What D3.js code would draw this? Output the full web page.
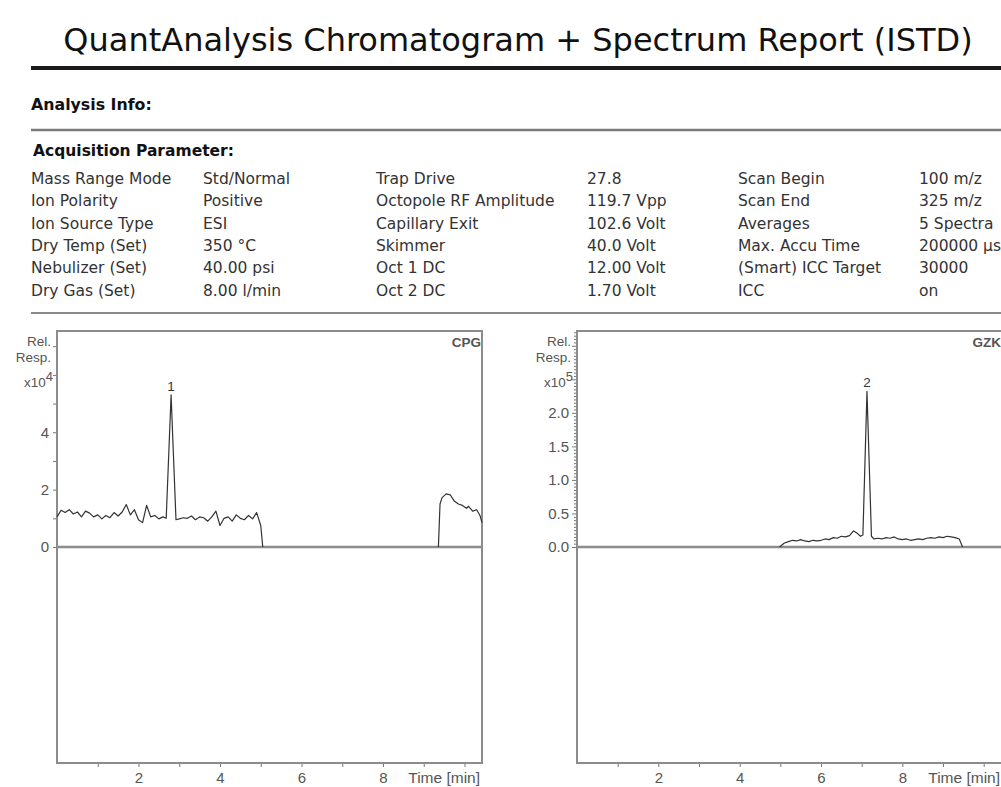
<!DOCTYPE html>
<html><head><meta charset="utf-8">
<script src="https://cdn.jsdelivr.net/npm/d3@7"></script>
<style>body{margin:0;background:#fff} svg{display:block}</style>
</head><body>
<svg id="c" width="1001" height="787"></svg>
<script>
// ---------- DATA ----------
const title = "QuantAnalysis Chromatogram + Spectrum Report (ISTD)";
const sectionInfo = "Analysis Info:";
const sectionAcq = "Acquisition Parameter:";
const paramNames1 = ["Mass Range Mode","Ion Polarity","Ion Source Type","Dry Temp (Set)","Nebulizer (Set)","Dry Gas (Set)"];
const paramValues1 = ["Std/Normal","Positive","ESI","350 °C","40.00 psi","8.00 l/min"];
const paramNames2 = ["Trap Drive","Octopole RF Amplitude","Capillary Exit","Skimmer","Oct 1 DC","Oct 2 DC"];
const paramValues2 = ["27.8","119.7 Vpp","102.6 Volt","40.0 Volt","12.00 Volt","1.70 Volt"];
const paramNames3 = ["Scan Begin","Scan End","Averages","Max. Accu Time","(Smart) ICC Target","ICC"];
const paramValues3 = ["100 m/z","325 m/z","5 Spectra","200000 µs","30000","on"];

const xTickValues = [1,2,3,4,5,6,7,8,9,10];
const xTickLabels = [2,4,6,8];
const xAxisTitle = "Time [min]";

// left chromatogram (CPG), x10^4
const leftCompound = "CPG";
const leftPeakLabel = "1";
const leftPeakTime = 2.8;
const leftPeakResp = 5.3;
const leftTime = [0.0,0.1,0.2,0.3,0.4,0.5,0.6,0.7,0.8,0.9,1.0,1.1,1.2,1.3,1.4,1.5,1.6,1.7,1.8,1.9,2.0,2.1,2.2,2.3,2.4,2.5,2.6,2.68,2.8,2.92,3.0,3.1,3.2,3.3,3.4,3.5,3.6,3.7,3.8,3.9,4.0,4.1,4.2,4.3,4.4,4.5,4.6,4.7,4.8,4.9,5.0,5.05,7.0,9.36,9.4,9.45,9.55,9.65,9.75,9.85,9.95,10.05,10.1,10.2,10.3,10.38,10.43];
const leftResp = [1.05,1.28,1.2,1.3,1.15,1.22,1.05,1.25,1.18,1.05,1.12,0.98,1.1,1.02,1.2,1.08,1.22,1.48,1.12,1.3,0.95,0.85,1.45,1.05,1.1,0.98,1.05,1.0,5.3,0.95,0.98,1.02,1.0,1.08,0.95,1.05,1.02,0.9,1.05,1.25,0.75,1.0,1.05,0.9,1.12,1.0,0.95,1.1,0.98,1.2,0.75,0.0,null,0.0,1.5,1.72,1.85,1.82,1.6,1.5,1.45,1.35,1.42,1.25,1.3,1.1,0.85];
const leftYTicks = [0,1,2,3,4,5,6,7];
const leftYLabels = [0,2,4];
const leftExp = "4";

// right chromatogram (GZK), x10^5
const rightCompound = "GZK";
const rightPeakLabel = "2";
const rightPeakTime = 7.13;
const rightPeakResp = 2.32;
const rightTime = [4.98,5.1,5.2,5.3,5.4,5.5,5.6,5.7,5.8,5.9,6.0,6.1,6.2,6.3,6.4,6.5,6.6,6.7,6.8,6.9,6.97,7.03,7.13,7.24,7.3,7.4,7.5,7.6,7.7,7.8,7.9,8.0,8.1,8.2,8.3,8.4,8.5,8.6,8.7,8.8,8.9,9.0,9.1,9.2,9.3,9.4,9.48];
const rightResp = [0.0,0.06,0.08,0.1,0.09,0.11,0.09,0.08,0.1,0.09,0.1,0.12,0.11,0.14,0.13,0.16,0.15,0.17,0.24,0.2,0.16,0.18,2.32,0.16,0.12,0.13,0.12,0.14,0.13,0.15,0.12,0.11,0.12,0.1,0.11,0.12,0.11,0.13,0.14,0.13,0.15,0.14,0.16,0.15,0.14,0.12,0.0];
const rightYLabels = ["0.0","0.5","1.0","1.5","2.0"];
const rightExp = "5";

// ---------- DRAW ----------
const svg = d3.select("#c");
const serif = "DejaVu Sans, Verdana, sans-serif";
const chartFont = "Liberation Sans, Arial, sans-serif";

svg.append("text").attr("x", 518).attr("y", 51).attr("text-anchor","middle")
  .attr("font-family", serif).attr("font-size", 32).attr("fill","#111").text(title);
svg.append("line").attr("x1",31).attr("x2",1001).attr("y1",68).attr("y2",68)
  .attr("stroke","#1a1a1a").attr("stroke-width",4);
svg.append("text").attr("x",31).attr("y",110).attr("font-family",serif).attr("font-weight","bold")
  .attr("font-size",15.8).attr("fill","#111").text(sectionInfo);
svg.append("line").attr("x1",31).attr("x2",1001).attr("y1",130).attr("y2",130)
  .attr("stroke","#7a7a7a").attr("stroke-width",2.5);
svg.append("text").attr("x",33).attr("y",156).attr("font-family",serif).attr("font-weight","bold")
  .attr("font-size",15.5).attr("fill","#111").text(sectionAcq);

const cols = [[31,paramNames1],[203,paramValues1],[376,paramNames2],[587,paramValues2],[738,paramNames3],[919,paramValues3]];
cols.forEach(([cx, arr]) => {
  svg.append("g").selectAll("text").data(arr).join("text")
    .attr("x", cx).attr("y", (d,i) => 184 + i*22.3)
    .attr("font-family", serif).attr("font-size", 15.5).attr("fill","#333").text(d => d);
});
svg.append("line").attr("x1",31).attr("x2",1001).attr("y1",313).attr("y2",313)
  .attr("stroke","#8a8a8a").attr("stroke-width",2);

function drawChart(opt) {
  const g = svg.append("g");
  const x = d3.scaleLinear().domain([0, opt.xMax]).range([opt.left, opt.left + 425]);
  const y = d3.scaleLinear().domain([-opt.yMax, opt.yMax]).range([763, 331]);
  const top = 331, bottom = 763, left = opt.left, right = opt.left + 425;

  // x axis
  const xa = g.append("g").attr("transform", `translate(0,${bottom})`)
    .call(d3.axisBottom(x).tickValues(xTickValues).tickSize(4).tickPadding(5)
      .tickFormat(d => xTickLabels.includes(d) ? d : ""));
  xa.select(".domain").remove();
  xa.selectAll("line").attr("stroke","#777");
  xa.selectAll("text").attr("font-family", chartFont).attr("font-size",15).attr("fill","#555");
  g.append("text").attr("x", right - 2).attr("y", bottom + 20).attr("text-anchor","end")
    .attr("font-family", chartFont).attr("font-size",15.5).attr("fill","#555").text(xAxisTitle);

  // y axis
  const ya = g.append("g").attr("transform", `translate(${left},0)`)
    .call(d3.axisLeft(y).tickValues(opt.yTicks).tickSize(0).tickPadding(8)
      .tickFormat(d => opt.yLabelFn(d)));
  ya.select(".domain").remove();
  ya.selectAll("text").attr("font-family", chartFont).attr("font-size",15).attr("fill","#555");
  ya.selectAll(".tick").append("line").attr("x1", d => -opt.tickLen(d)).attr("x2",0)
    .attr("stroke","#777").attr("stroke-width",1);

  // Rel. Resp. x10^n
  const lbl = g.append("g").attr("font-family", chartFont).attr("font-size",13.5).attr("fill","#555").attr("text-anchor","end");
  lbl.append("text").attr("x", left - 6).attr("y", top + 15).text("Rel.");
  lbl.append("text").attr("x", left - 6).attr("y", top + 31).text("Resp.");
  const ex = lbl.append("text").attr("x", left - 4).attr("y", top + 56);
  ex.append("tspan").text("x10");
  ex.append("tspan").attr("dy", -6).attr("font-size",13).text(opt.exp);

  // frame & zero line
  g.append("rect").attr("x", left).attr("y", top).attr("width", right-left).attr("height", bottom-top)
    .attr("fill","none").attr("stroke","#8c8c8c").attr("stroke-width",2);
  g.append("line").attr("x1", left).attr("x2", right).attr("y1", y(0)).attr("y2", y(0))
    .attr("stroke","#8c8c8c").attr("stroke-width",2.5);

  // trace
  const pts = opt.time.map((t,i) => [t, opt.resp[i]]);
  g.append("path").datum(pts)
    .attr("d", d3.line().defined(d => d[1] !== null).x(d => x(d[0])).y(d => y(d[1])))
    .attr("fill","none").attr("stroke","#333").attr("stroke-width",1.2).attr("stroke-linejoin","round");

  // peak label
  g.append("text").attr("x", x(opt.peakTime)).attr("y", y(opt.peakResp) - 4).attr("text-anchor","middle")
    .attr("font-family", chartFont).attr("font-size",13.5).attr("fill","#333").text(opt.peakLabel);

  // compound label
  g.append("text").attr("x", right - 1).attr("y", top + 16).attr("text-anchor","end")
    .attr("font-family", chartFont).attr("font-weight","bold").attr("font-size",13.5).attr("fill","#555").text(opt.compound);
}

drawChart({
  left: 57, xMax: 10.43, yMax: 7.53,
  yTicks: leftYTicks,
  yLabelFn: d => leftYLabels.includes(d) ? String(d) : "",
  tickLen: d => 4,
  exp: leftExp,
  time: leftTime, resp: leftResp,
  peakTime: leftPeakTime, peakResp: leftPeakResp, peakLabel: leftPeakLabel,
  compound: leftCompound
});

const rightTicks = d3.range(0, 65).map(i => +(i*0.05).toFixed(2));
drawChart({
  left: 577, xMax: 10.45, yMax: 3.22,
  yTicks: rightTicks,
  yLabelFn: d => { const s = d.toFixed(1); return (Math.abs(d*2 - Math.round(d*2)) < 1e-6 && rightYLabels.includes(s)) ? s : ""; },
  tickLen: d => (Math.abs(d*2 - Math.round(d*2)) < 1e-6 ? 5 : 3),
  exp: rightExp,
  time: rightTime, resp: rightResp,
  peakTime: rightPeakTime, peakResp: rightPeakResp, peakLabel: rightPeakLabel,
  compound: rightCompound
});
</script>
</body></html>
